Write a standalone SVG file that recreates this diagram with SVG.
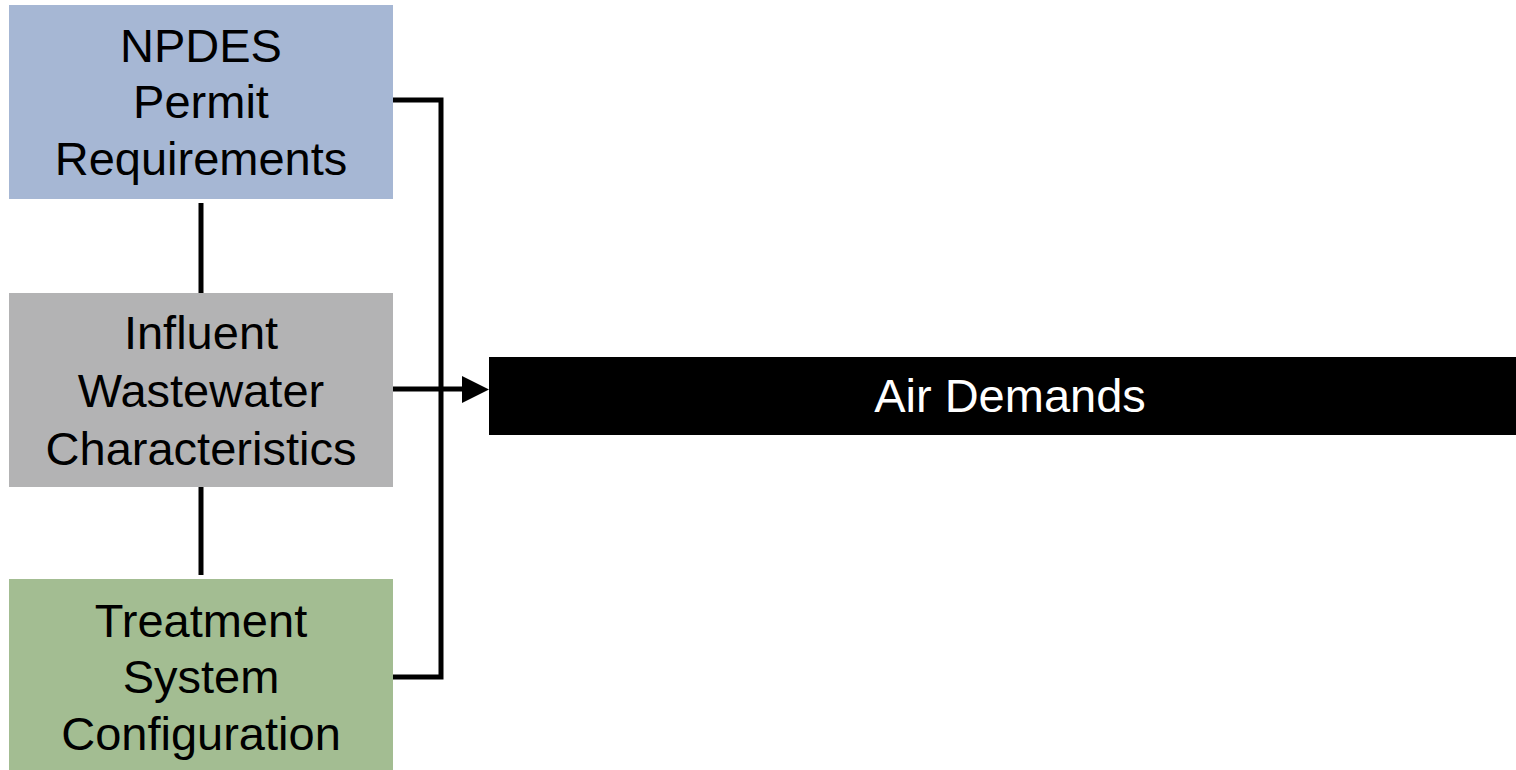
<svg xmlns="http://www.w3.org/2000/svg" width="1516" height="770" viewBox="0 0 1516 770">
<style>
.lbl{font-family:"Liberation Sans",Arial,sans-serif;font-size:47px;fill:#000;text-anchor:middle}
.wl{fill:#fff}
.ln{stroke:#000;stroke-width:5;fill:none}
</style>
<rect width="1516" height="770" fill="#fff"/>
<g id="connectors">
<line class="ln" x1="201" y1="203" x2="201" y2="293"/>
<line class="ln" x1="201" y1="487" x2="201" y2="575"/>
<polyline class="ln" points="393,100 441,100 441,677 393,677" stroke-linejoin="miter"/>
<line class="ln" x1="393" y1="389" x2="464" y2="389"/>
<polygon points="462,376 489,389.5 462,403" fill="#000"/>
</g>
<g id="npdes">
<rect x="9" y="5" width="384" height="194" fill="#A6B7D4"/>
<text class="lbl" x="201" y="62">NPDES</text>
<text class="lbl" x="201" y="118">Permit</text>
<text class="lbl" x="201" y="175">Requirements</text>
</g>
<g id="influent">
<rect x="9" y="293" width="384" height="194" fill="#B3B3B4"/>
<text class="lbl" x="201" y="349">Influent</text>
<text class="lbl" x="201" y="407">Wastewater</text>
<text class="lbl" x="201" y="465">Characteristics</text>
</g>
<g id="treatment">
<rect x="9" y="579" width="384" height="191" fill="#A3BD92"/>
<text class="lbl" x="201" y="637">Treatment</text>
<text class="lbl" x="201" y="693">System</text>
<text class="lbl" x="201" y="750">Configuration</text>
</g>
<g id="air">
<rect x="489" y="357" width="1027" height="78" fill="#000"/>
<text class="lbl wl" x="1010" y="412">Air Demands</text>
</g>
</svg>
